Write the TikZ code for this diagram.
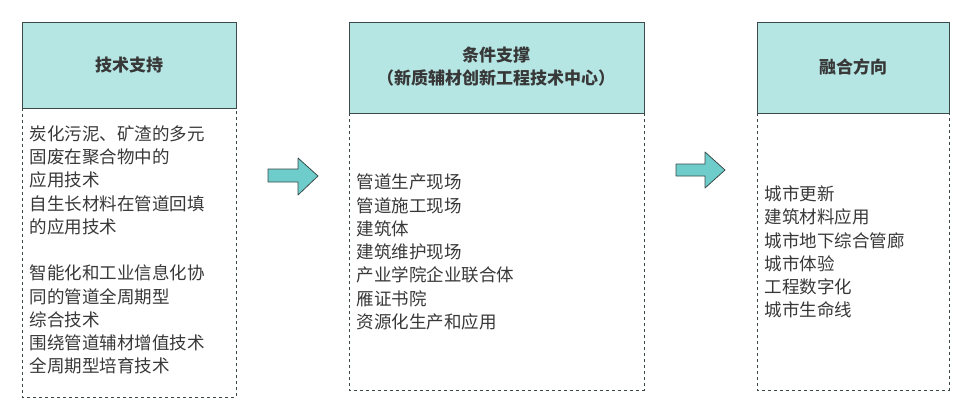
\documentclass[tikz,border=0pt]{standalone}
\usepackage{fontspec}
\setmainfont{Noto Sans CJK SC}
\definecolor{headfill}{HTML}{B5E6E4}
\definecolor{arrowfill}{HTML}{6ECDCB}
\definecolor{edge}{HTML}{3A4A4A}
\definecolor{ink}{HTML}{383838}
\tikzset{
  head/.style={draw=edge, fill=headfill, line width=0.8pt, text=ink, font=\fontsize{17}{23}\selectfont\bfseries, align=center},
  body/.style={draw=edge, dashed, line width=0.8pt},
  item/.style={anchor=west, align=left, text=ink, font=\fontsize{17.5}{23.3}\selectfont},
  flow/.style={draw=edge, fill=arrowfill, line width=0.8pt, line join=round}
}
\begin{document}
\begin{tikzpicture}[x=1pt,y=-1pt]
  \useasboundingbox (0,0) rectangle (971,418);
  % left column
  \draw[body] (22,108) rectangle (236,397);
  \draw[head] (22,22) rectangle (236,108);
  \node[head, draw=none, fill=none] (techHead) at (129,65) {技术支持};
  \node[item] (techList) at (26,250) {炭化污泥、矿渣的多元\\固废在聚合物中的\\应用技术\\自生长材料在管道回填\\的应用技术\\[23pt]智能化和工业信息化协\\同的管道全周期型\\综合技术\\围绕管道辅材增值技术\\全周期型培育技术};
  % middle column
  \draw[body] (349,113) rectangle (644,390);
  \draw[head] (349,22) rectangle (644,113);
  \node[head, draw=none, fill=none] (condHead) at (496,67) {条件支撑\\（新质辅材创新工程技术中心）};
  \node[item] (condList) at (353,252) {管道生产现场\\管道施工现场\\建筑体\\建筑维护现场\\产业学院企业联合体\\雁证书院\\资源化生产和应用};
  % right column
  \draw[body] (757,113) rectangle (949,390);
  \draw[head] (757,22) rectangle (949,113);
  \node[head, draw=none, fill=none] (fuseHead) at (853,67) {融合方向};
  \node[item] (fuseList) at (761,252) {城市更新\\建筑材料应用\\城市地下综合管廊\\城市体验\\工程数字化\\城市生命线};
  % arrows
  \draw[flow] (268,169) -- (298,169) -- (298,158) -- (318,176) -- (298,195) -- (298,182) -- (268,182) -- cycle;
  \draw[flow] (676,164) -- (705,164) -- (705,152) -- (725,170) -- (705,188) -- (705,176) -- (676,176) -- cycle;
\end{tikzpicture}
\end{document}
